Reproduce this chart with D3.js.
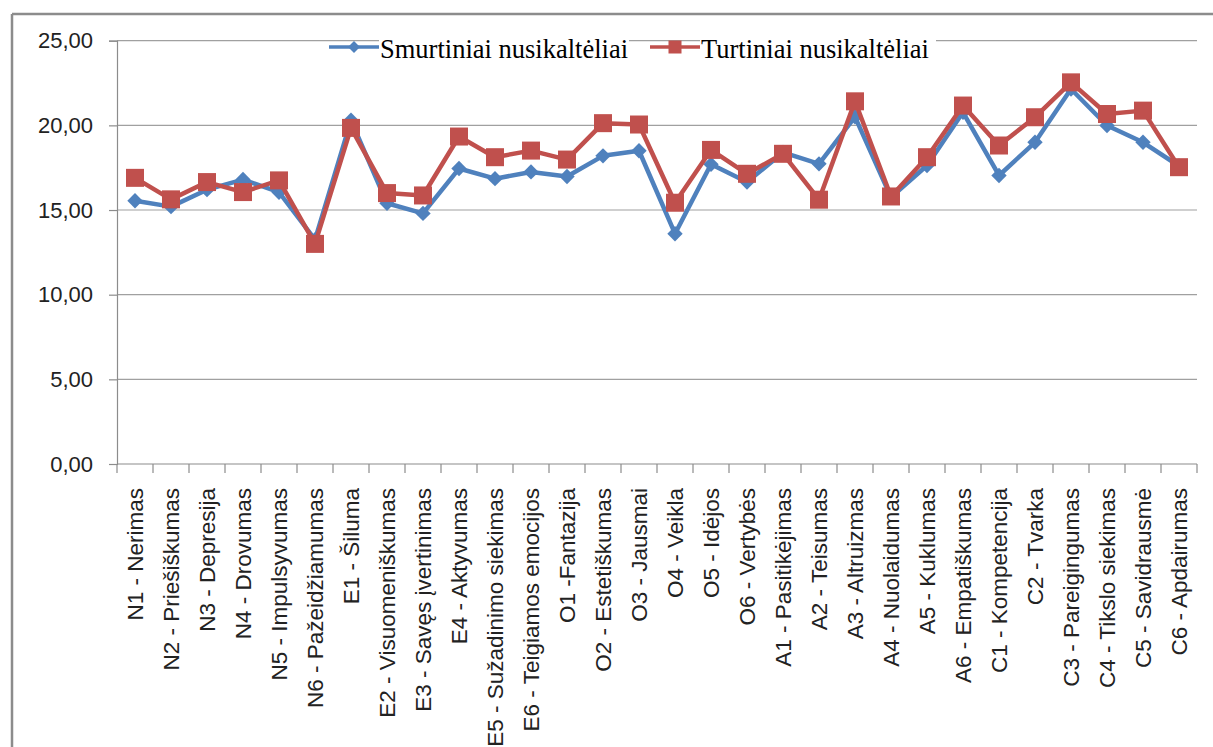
<!DOCTYPE html>
<html>
<head>
<meta charset="utf-8">
<script src="https://cdn.jsdelivr.net/npm/d3@7"></script>
<style>
  body { margin: 0; background: #fff; }
  svg { display: block; }
</style>
</head>
<body>
<div id="chart"></div>
<script>
// Categories (x axis)
var categories = [
  "N1 - Nerimas", "N2 - Priešiškumas", "N3 - Depresija", "N4 - Drovumas",
  "N5 - Impulsyvumas", "N6 - Pažeidžiamumas", "E1 - Šiluma", "E2 - Visuomeniškumas",
  "E3 - Savęs įvertinimas", "E4 - Aktyvumas", "E5 - Sužadinimo siekimas", "E6 - Teigiamos emocijos",
  "O1 -Fantazija", "O2 - Estetiškumas", "O3 - Jausmai", "O4 - Veikla",
  "O5 - Idėjos", "O6 - Vertybės", "A1 - Pasitikėjimas", "A2 - Teisumas",
  "A3 - Altruizmas", "A4 - Nuolaidumas", "A5 - Kuklumas", "A6 - Empatiškumas",
  "C1 - Kompetencija", "C2 - Tvarka", "C3 - Pareigingumas", "C4 - Tikslo siekimas",
  "C5 - Savidrausmė", "C6 - Apdairumas"
];

// Smurtiniai nusikaltėliai
var smurtiniai = [
  15.55, 15.2, 16.2, 16.8, 16.05, 13.25, 20.3, 15.4, 14.8, 17.45,
  16.85, 17.25, 16.98, 18.2, 18.5, 13.6, 17.7, 16.65, 18.4, 17.73,
  20.5, 15.75, 17.63, 20.77, 17.04, 19.0, 22.15, 19.99, 19.0, 17.6
];

// Turtiniai nusikaltėliai
var turtiniai = [
  16.9, 15.63, 16.65, 16.06, 16.75, 13.0, 19.85, 16.0, 15.86, 19.34,
  18.12, 18.51, 17.98, 20.13, 20.05, 15.43, 18.55, 17.14, 18.32, 15.61,
  21.42, 15.8, 18.12, 21.17, 18.81, 20.48, 22.54, 20.67, 20.87, 17.53
];

var yTicks = [0, 5, 10, 15, 20, 25];

var width = 1213;
var height = 747;
var plotLeft = 117, plotRight = 1197, plotTop = 40.7, plotBottom = 464;

var blue = "#4f81bd";
var red = "#c0504d";

var svg = d3.select("#chart")
  .append("svg")
  .attr("width", width)
  .attr("height", height);

// Outer frame
svg.append("line").attr("x1", 12).attr("x2", width).attr("y1", 14).attr("y2", 14)
  .attr("stroke", "#8c8c8c").attr("stroke-width", 2.5);
svg.append("line").attr("x1", 12).attr("x2", 12).attr("y1", 14).attr("y2", height)
  .attr("stroke", "#8c8c8c").attr("stroke-width", 2.5);

// Scales
var x = d3.scaleBand().domain(categories).range([plotLeft, plotRight]).paddingInner(0).paddingOuter(0);
var y = d3.scaleLinear().domain([0, 25]).range([plotBottom, plotTop]);
var cx = d => x(d) + x.bandwidth() / 2;

// Gridlines
svg.append("g")
  .selectAll("line")
  .data(yTicks.filter(t => t > 0))
  .enter()
  .append("line")
  .attr("x1", plotLeft).attr("x2", plotRight)
  .attr("y1", d => y(d)).attr("y2", d => y(d))
  .attr("stroke", "#a0a0a0").attr("stroke-width", 1.2);

// Y axis
var yAxis = svg.append("g")
  .attr("transform", "translate(" + plotLeft + ",0)")
  .call(d3.axisLeft(y).tickValues(yTicks).tickSize(8).tickPadding(16)
    .tickFormat(d => d3.format(".2f")(d).replace(".", ",")));
yAxis.select(".domain").attr("stroke", "#8c8c8c").attr("stroke-width", 1.2);
yAxis.selectAll(".tick line").attr("stroke", "#8c8c8c").attr("stroke-width", 1.2);
yAxis.selectAll("text")
  .attr("font-family", "Liberation Sans, Arial, sans-serif")
  .attr("font-size", 22)
  .attr("fill", "#222");

// X axis line and boundary ticks
svg.append("line").attr("x1", plotLeft).attr("x2", plotRight).attr("y1", plotBottom).attr("y2", plotBottom)
  .attr("stroke", "#8c8c8c").attr("stroke-width", 1.2);
var bounds = categories.map(c => x(c)).concat([plotRight]);
svg.append("g")
  .selectAll("line")
  .data(bounds)
  .enter()
  .append("line")
  .attr("x1", d => d).attr("x2", d => d)
  .attr("y1", plotBottom).attr("y2", plotBottom + 9)
  .attr("stroke", "#8c8c8c").attr("stroke-width", 1.2);

// Category labels, rotated
svg.append("g")
  .selectAll("text")
  .data(categories)
  .enter()
  .append("text")
  .attr("transform", d => "translate(" + (cx(d) + 8) + "," + (plotBottom + 24) + ") rotate(-90)")
  .attr("text-anchor", "end")
  .attr("font-family", "Liberation Sans, Arial, sans-serif")
  .attr("font-size", 22.5)
  .attr("fill", "#222")
  .text(d => d);

// Lines
var line = d3.line().x((d, i) => cx(categories[i])).y(d => y(d));

svg.append("path")
  .datum(smurtiniai)
  .attr("d", line)
  .attr("fill", "none")
  .attr("stroke", blue)
  .attr("stroke-width", 4.5)
  .attr("stroke-linejoin", "round");

svg.append("g")
  .selectAll("path")
  .data(smurtiniai)
  .enter()
  .append("path")
  .attr("d", d3.symbol().type(d3.symbolDiamond2).size(150))
  .attr("transform", (d, i) => "translate(" + cx(categories[i]) + "," + y(d) + ")")
  .attr("fill", blue);

svg.append("path")
  .datum(turtiniai)
  .attr("d", line)
  .attr("fill", "none")
  .attr("stroke", red)
  .attr("stroke-width", 4.5)
  .attr("stroke-linejoin", "round");

svg.append("g")
  .selectAll("rect")
  .data(turtiniai)
  .enter()
  .append("rect")
  .attr("x", (d, i) => cx(categories[i]) - 9)
  .attr("y", d => y(d) - 9)
  .attr("width", 18)
  .attr("height", 18)
  .attr("fill", red);

// Legend
var legend = [
  { name: "Smurtiniai nusikaltėliai", color: blue, x: 329, tx: 380, tw: 250, kind: "diamond" },
  { name: "Turtiniai nusikaltėliai", color: red, x: 650, tx: 701, tw: 236, kind: "square" }
];
var lg = svg.append("g");
legend.forEach(function(l) {
  lg.append("rect").attr("x", l.tx - 1).attr("y", 30).attr("width", l.tw).attr("height", 32).attr("fill", "#fff");
  lg.append("line").attr("x1", l.x).attr("x2", l.x + 50).attr("y1", 47).attr("y2", 47)
    .attr("stroke", l.color).attr("stroke-width", 3.5);
  if (l.kind === "diamond") {
    lg.append("path").attr("d", d3.symbol().type(d3.symbolDiamond2).size(90))
      .attr("transform", "translate(" + (l.x + 25) + ",47)").attr("fill", l.color);
  } else {
    lg.append("rect").attr("x", l.x + 25 - 6.5).attr("y", 47 - 6.5).attr("width", 13).attr("height", 13)
      .attr("fill", l.color);
  }
  lg.append("text")
    .attr("x", l.tx).attr("y", 58)
    .attr("font-family", "Liberation Serif, Times New Roman, serif")
    .attr("font-size", 26.5)
    .attr("fill", "#000")
    .text(l.name);
});
</script>
</body>
</html>
